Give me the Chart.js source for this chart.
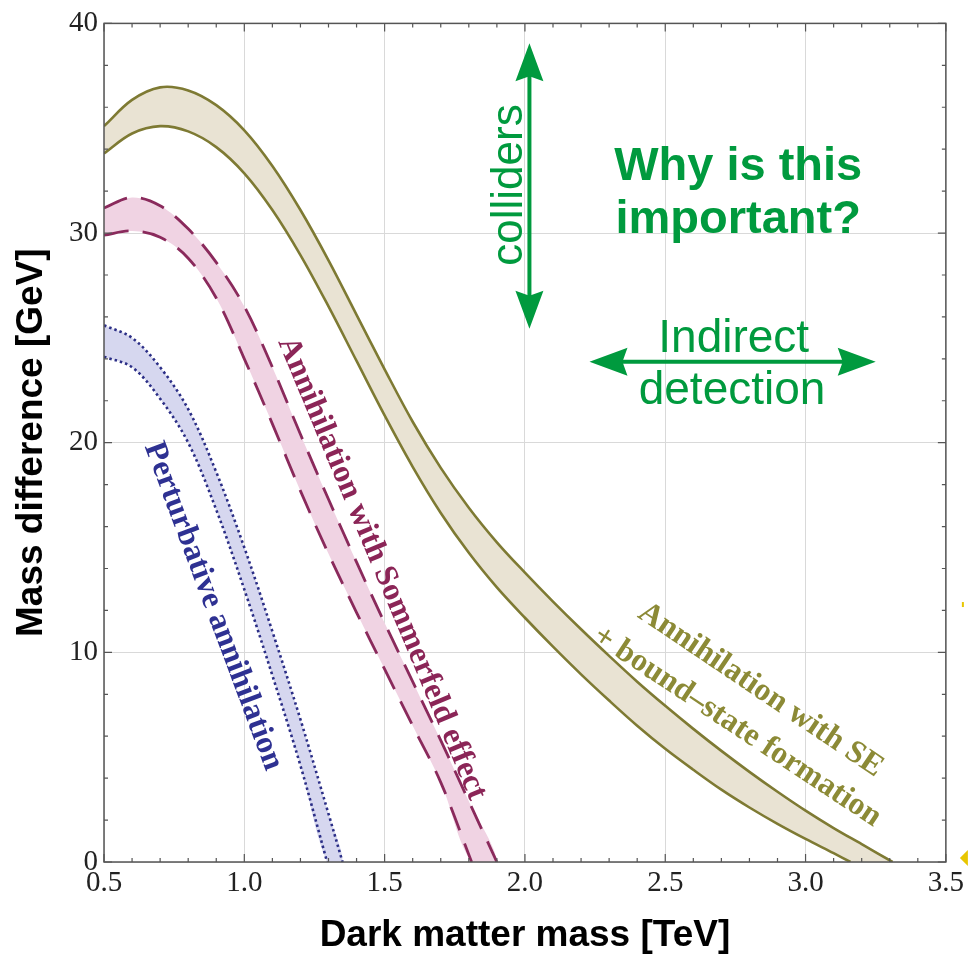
<!DOCTYPE html>
<html>
<head>
<meta charset="utf-8">
<title>Mass difference vs dark matter mass</title>
<script src="https://cdn.jsdelivr.net/npm/chart.js@4.4.1/dist/chart.umd.min.js"></script>
<style>
  html, body { margin: 0; padding: 0; background: #fff; }
  #wrap { width: 968px; height: 958px; }
</style>
</head>
<body>
<div id="wrap"><canvas id="chart" width="968" height="958"></canvas></div>
<script>
// Tick labels
const xTickLabels = ['0.5', '1.0', '1.5', '2.0', '2.5', '3.0', '3.5'];
const yTickLabels = ['0', '10', '20', '30', '40'];

// Annihilation with SE + bound-state formation (olive band)
const bsfUpperX = [0.5, 0.6, 0.7, 0.8, 0.9, 1.0, 1.1, 1.2, 1.3, 1.4, 1.5, 1.6, 1.7, 1.8, 1.9, 2.0, 2.1, 2.2, 2.3, 2.4, 2.5, 2.6, 2.7, 2.8, 2.9, 3.0, 3.1, 3.2, 3.31];
const bsfUpperY = [35.1, 36.35, 36.95, 36.8, 36.1, 34.9, 33.2, 31.1, 28.7, 26.1, 23.5, 21.0, 18.8, 16.9, 15.25, 13.8, 12.42, 11.1, 9.83, 8.6, 7.45, 6.35, 5.3, 4.3, 3.35, 2.45, 1.62, 0.85, 0];
const bsfLowerX = [0.5, 0.6, 0.7, 0.8, 0.9, 1.0, 1.1, 1.2, 1.3, 1.4, 1.5, 1.6, 1.7, 1.8, 1.9, 2.0, 2.1, 2.2, 2.3, 2.4, 2.5, 2.6, 2.7, 2.8, 2.9, 3.0, 3.1, 3.16];
const bsfLowerY = [33.8, 34.75, 35.1, 34.85, 34.1, 32.85, 31.1, 28.95, 26.5, 23.9, 21.3, 18.85, 16.65, 14.75, 13.1, 11.65, 10.27, 8.95, 7.7, 6.5, 5.4, 4.4, 3.45, 2.6, 1.82, 1.1, 0.42, 0];

// Annihilation with Sommerfeld effect (pink band)
const seUpperX = [0.5, 0.6, 0.7, 0.8, 0.9, 1.0, 1.1, 1.2, 1.3, 1.4, 1.5, 1.6, 1.7, 1.8, 1.9];
const seUpperY = [31.2, 31.7, 31.3, 30.2, 28.6, 26.5, 23.6, 20.4, 17.3, 14.3, 11.4, 8.6, 5.8, 2.9, 0];
const seLowerX = [0.5, 0.6, 0.7, 0.8, 0.9, 1.0, 1.1, 1.2, 1.3, 1.4, 1.5, 1.6, 1.7, 1.81];
const seLowerY = [29.9, 30.1, 29.8, 28.8, 26.9, 24.0, 20.9, 17.7, 14.7, 11.9, 9.2, 6.5, 3.8, 0];

// Perturbative annihilation (blue band)
const paUpperX = [0.5, 0.6, 0.7, 0.8, 0.9, 1.0, 1.1, 1.2, 1.3, 1.35];
const paUpperY = [25.6, 25.0, 23.6, 21.6, 18.6, 15.0, 11.0, 6.8, 2.3, 0];
const paLowerX = [0.5, 0.6, 0.7, 0.8, 0.9, 1.0, 1.1, 1.2, 1.295];
const paLowerY = [24.1, 23.6, 22.1, 20.0, 16.8, 13.0, 8.9, 4.6, 0];

const xMajor = xTickLabels.map(Number);
const yMajor = yTickLabels.map(Number);

function pts(xs, ys) {
    return xs.map((x, i) => ({ x: x, y: ys[i] }));
}

// closed outline: upper curve then lower curve backwards
function band(ux, uy, lx, ly) {
    return pts(ux, uy).concat(pts(lx, ly).reverse());
}

function stepTicks(min, max, step) {
    const out = [];
    const n = Math.round((max - min) / step);
    for (let i = 0; i <= n; i++) out.push({ value: Math.round((min + i * step) * 1000) / 1000 });
    return out;
}

function isMajor(v, majors) {
    return majors.some(m => Math.abs(m - v) < 1e-6);
}

// Text and arrows laid over the plot (positions in data units)
const curveNotes = [
    { text: 'Perturbative annihilation', x: 0.889, y: 12.2, angle: 69.5, color: '#2e3192' },
    { text: 'Annihilation with Sommerfeld effect', x: 1.49, y: 14.0, angle: 67.3, color: '#8b2557' },
    { text: 'Annihilation with SE', x: 2.840, y: 8.2, angle: 34, color: '#8c8a36' },
    { text: '+ bound\u2013state formation', x: 2.756, y: 6.45, angle: 33.5, color: '#8c8a36' }
];
const green = '#009a3e';
const greenNotes = [
    { text: 'colliders', x: 1.988, y: 32.29, angle: -90, font: '44px "Liberation Sans"' },
    { text: 'Why is this', x: 2.760, y: 32.52, angle: 0, font: 'bold 47px "Liberation Sans"' },
    { text: 'important?', x: 2.760, y: 30.0, angle: 0, font: 'bold 47px "Liberation Sans"' },
    { text: 'Indirect', x: 2.744, y: 24.33, angle: 0, font: '46px "Liberation Sans"' },
    { text: 'detection', x: 2.738, y: 21.86, angle: 0, font: '46px "Liberation Sans"' }
];
const arrows = [
    { x1: 2.016, y1: 39.05, x2: 2.016, y2: 25.43 },
    { x1: 2.23, y1: 23.86, x2: 3.25, y2: 23.86 }
];

function arrowHead(ctx, tx, ty, dx, dy) {
    const len = 38, half = 14, notch = 5;
    const bx = tx - dx * len, by = ty - dy * len;
    const nx = -dy, ny = dx;
    ctx.beginPath();
    ctx.moveTo(tx, ty);
    ctx.lineTo(bx + nx * half, by + ny * half);
    ctx.lineTo(bx + dx * notch, by + dy * notch);
    ctx.lineTo(bx - nx * half, by - ny * half);
    ctx.closePath();
    ctx.fill();
}

const framePlugin = {
    id: 'framePlugin',
    afterDatasetsDraw(chart) {
        const { ctx, chartArea: a, scales: { x, y } } = chart;
        ctx.save();
        ctx.strokeStyle = '#555';
        ctx.lineWidth = 1.5;
        ctx.strokeRect(a.left, a.top, a.right - a.left, a.bottom - a.top);

        // inward tick marks on all four sides
        ctx.lineWidth = 1.2;
        ctx.beginPath();
        x.ticks.forEach(t => {
            const px = x.getPixelForValue(t.value);
            const len = isMajor(t.value, xMajor) ? 8 : 4;
            ctx.moveTo(px, a.bottom); ctx.lineTo(px, a.bottom - len);
            ctx.moveTo(px, a.top); ctx.lineTo(px, a.top + len);
        });
        y.ticks.forEach(t => {
            const py = y.getPixelForValue(t.value);
            const len = isMajor(t.value, yMajor) ? 8 : 4;
            ctx.moveTo(a.left, py); ctx.lineTo(a.left + len, py);
            ctx.moveTo(a.right, py); ctx.lineTo(a.right - len, py);
        });
        ctx.stroke();
        ctx.restore();
    },
    afterDraw(chart) {
        const { ctx, chartArea: a, scales: { x, y } } = chart;
        ctx.save();
        ctx.textAlign = 'center';

        curveNotes.forEach(n => {
            ctx.save();
            ctx.translate(x.getPixelForValue(n.x), y.getPixelForValue(n.y));
            ctx.rotate(n.angle * Math.PI / 180);
            ctx.font = 'bold 32px "Liberation Serif"';
            ctx.fillStyle = n.color;
            ctx.textBaseline = 'middle';
            ctx.fillText(n.text, 0, 0);
            ctx.restore();
        });

        ctx.fillStyle = green;
        ctx.strokeStyle = green;
        greenNotes.forEach(n => {
            ctx.save();
            ctx.translate(x.getPixelForValue(n.x), y.getPixelForValue(n.y));
            ctx.rotate(n.angle * Math.PI / 180);
            ctx.font = n.font;
            ctx.textBaseline = 'alphabetic';
            ctx.fillText(n.text, 0, 0);
            ctx.restore();
        });

        ctx.lineWidth = 4;
        arrows.forEach(ar => {
            const x1 = x.getPixelForValue(ar.x1), y1 = y.getPixelForValue(ar.y1);
            const x2 = x.getPixelForValue(ar.x2), y2 = y.getPixelForValue(ar.y2);
            const L = Math.hypot(x2 - x1, y2 - y1);
            const dx = (x2 - x1) / L, dy = (y2 - y1) / L;
            ctx.beginPath();
            ctx.moveTo(x1 + dx * 30, y1 + dy * 30);
            ctx.lineTo(x2 - dx * 30, y2 - dy * 30);
            ctx.stroke();
            arrowHead(ctx, x2, y2, dx, dy);
            arrowHead(ctx, x1, y1, -dx, -dy);
        });

        // small cut-off yellow marks at the right edge of the slide
        ctx.fillStyle = '#e8c600';
        const ex = a.right + 16;
        ctx.fillRect(ex, y.getPixelForValue(12.4), 2, 5);
        ctx.beginPath();
        ctx.moveTo(ex - 2, a.bottom - 4);
        ctx.lineTo(ex + 6, a.bottom - 12);
        ctx.lineTo(ex + 6, a.bottom + 4);
        ctx.closePath();
        ctx.fill();
        ctx.restore();
    }
};

const lineBase = { pointRadius: 0, fill: false, tension: 0.35, order: 1 };
const fillBase = { pointRadius: 0, fill: 'shape', tension: 0.35, borderWidth: 0, borderColor: 'rgba(0,0,0,0)', order: 3 };

const axisTitleFont = { family: '"Liberation Sans", Arial, sans-serif', weight: 'bold', size: 37 };
const tickFont = { family: '"Liberation Serif", "Times New Roman", serif', size: 29 };

new Chart(document.getElementById('chart'), {
    type: 'line',
    data: {
        datasets: [
            Object.assign({}, fillBase, { data: band(bsfUpperX, bsfUpperY, bsfLowerX, bsfLowerY), backgroundColor: '#e9e3d3' }),
            Object.assign({}, fillBase, { data: band(seUpperX, seUpperY, seLowerX, seLowerY), backgroundColor: '#f0d3e3' }),
            Object.assign({}, fillBase, { data: band(paUpperX, paUpperY, paLowerX, paLowerY), backgroundColor: '#d6d7ef' }),
            Object.assign({}, lineBase, { data: pts(bsfUpperX, bsfUpperY), borderColor: '#7e7a33', borderWidth: 2.6 }),
            Object.assign({}, lineBase, { data: pts(bsfLowerX, bsfLowerY), borderColor: '#7e7a33', borderWidth: 2.6 }),
            Object.assign({}, lineBase, { data: pts(seUpperX, seUpperY), borderColor: '#8a2a5c', borderWidth: 2.8, borderDash: [25, 14] }),
            Object.assign({}, lineBase, { data: pts(seLowerX, seLowerY), borderColor: '#8a2a5c', borderWidth: 2.8, borderDash: [25, 14] }),
            Object.assign({}, lineBase, { data: pts(paUpperX, paUpperY), borderColor: '#2b2e86', borderWidth: 2.6, borderDash: [2.5, 3] }),
            Object.assign({}, lineBase, { data: pts(paLowerX, paLowerY), borderColor: '#2b2e86', borderWidth: 2.6, borderDash: [2.5, 3] })
        ]
    },
    options: {
        responsive: false,
        animation: false,
        devicePixelRatio: 1,
        layout: { padding: { top: 22, right: 21, left: 0, bottom: 0 } },
        plugins: { legend: { display: false }, tooltip: { enabled: false } },
        scales: {
            x: {
                type: 'linear',
                min: 0.5,
                max: 3.5,
                afterBuildTicks: s => { s.ticks = stepTicks(0.5, 3.5, 0.1); },
                afterFit: s => { s.height = 96; },
                border: { display: false },
                grid: {
                    drawTicks: false,
                    lineWidth: 1,
                    color: c => (c.tick && isMajor(c.tick.value, xMajor)) ? '#d9d9d9' : 'rgba(0,0,0,0)'
                },
                ticks: {
                    autoSkip: false,
                    maxRotation: 0,
                    padding: 4,
                    color: '#222',
                    font: tickFont,
                    callback: v => {
                        const i = xMajor.findIndex(m => Math.abs(m - v) < 1e-6);
                        return i >= 0 ? xTickLabels[i] : '';
                    }
                },
                title: { display: true, text: 'Dark matter mass [TeV]', color: '#000', font: axisTitleFont, padding: { top: 4, bottom: 0 } }
            },
            y: {
                type: 'linear',
                min: 0,
                max: 40,
                afterBuildTicks: s => { s.ticks = stepTicks(0, 40, 2); },
                afterFit: s => { s.width = 104; },
                border: { display: false },
                grid: {
                    drawTicks: false,
                    lineWidth: 1,
                    color: c => (c.tick && isMajor(c.tick.value, yMajor)) ? '#d9d9d9' : 'rgba(0,0,0,0)'
                },
                ticks: {
                    autoSkip: false,
                    padding: 6,
                    color: '#222',
                    font: tickFont,
                    callback: v => {
                        const i = yMajor.findIndex(m => Math.abs(m - v) < 1e-6);
                        return i >= 0 ? yTickLabels[i] : '';
                    }
                },
                title: { display: true, text: 'Mass difference [GeV]', color: '#000', font: axisTitleFont, padding: { top: 10, bottom: 4 } }
            }
        }
    },
    plugins: [framePlugin]
});
</script>
</body>
</html>
